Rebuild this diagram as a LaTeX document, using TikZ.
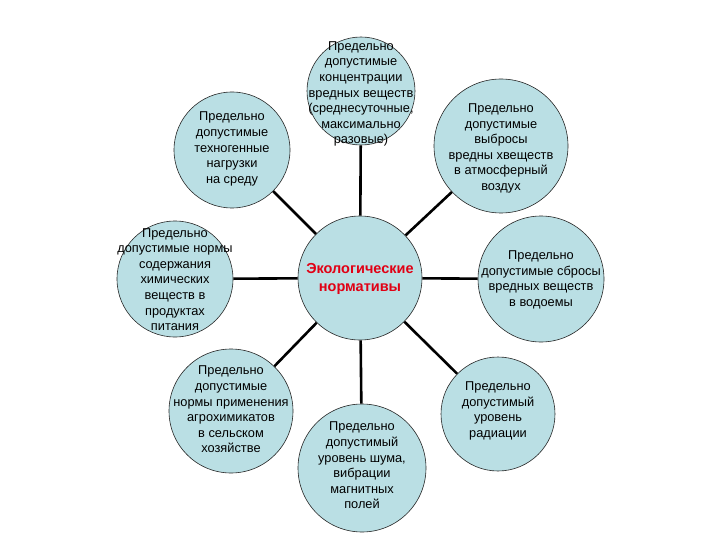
\documentclass[tikz,border=0pt]{standalone}
\usepackage{fontspec}
\setmainfont{Liberation Sans}
\definecolor{bubfill}{RGB}{186,223,228}
\definecolor{titlered}{RGB}{225,0,20}
\begin{document}
\begin{tikzpicture}[x=1pt,y=-1pt,
  bub/.style={circle,draw=black!85,line width=0.6pt,fill=bubfill,inner sep=0pt},
  txt/.style={align=center,font=\fontsize{12.8}{15.6}\selectfont,inner sep=0pt},
  conn/.style={line width=2.6pt,draw=black}]
\useasboundingbox (0,0) rectangle (720,540);
% circles
\node[bub,minimum size=124pt] (c) at (360,278) {};
\node[bub,minimum size=108pt] (t) at (361,91) {};
\node[bub,minimum size=116pt] (tl) at (232,150) {};
\node[bub,minimum size=134pt] (tr) at (501,146) {};
\node[bub,minimum size=116pt] (l) at (175,279) {};
\node[bub,minimum size=126pt] (r) at (541,279) {};
\node[bub,minimum size=124pt] (bl) at (231,411) {};
\node[bub,minimum size=128pt] (b) at (362,468) {};
\node[bub,minimum size=114pt] (br) at (498,414) {};
% connectors
\draw[conn] (c) -- (t);
\draw[conn] (c) -- (tl);
\draw[conn] (c) -- (tr);
\draw[conn] (c) -- (l);
\draw[conn] (c) -- (r);
\draw[conn] (c) -- (bl);
\draw[conn] (c) -- (b);
\draw[conn] (c) -- (br);
% texts
\node[txt,font=\fontsize{14.5}{18}\selectfont\bfseries,text=titlered] (ct) at (360,279) {Экологические\\нормативы};
\node[txt] (tt) at (361,94) {Предельно\\допустимые\\концентрации\\вредных веществ\\(среднесуточные,\\максимально\\разовые)};
\node[txt] (tlt) at (232,149) {Предельно\\допустимые\\техногенные\\нагрузки\\на среду};
\node[txt] (trt) at (501,148.5) {Предельно\\допустимые\\выбросы\\вредны хвеществ\\в атмосферный\\воздух};
\node[txt] (lt) at (175,279.5) {Предельно\\допустимые нормы\\содержания\\химических\\веществ в\\продуктах\\питания};
\node[txt] (rt) at (541,280) {Предельно\\допустимые сбросы\\вредных веществ\\в водоемы};
\node[txt] (blt) at (231,409.5) {Предельно\\допустимые\\нормы применения\\агрохимикатов\\в сельском\\хозяйстве};
\node[txt] (bt) at (362,465.5) {Предельно\\допустимый\\уровень шума,\\вибрации\\магнитных\\полей};
\node[txt] (brt) at (498,411) {Предельно\\допустимый\\уровень\\радиации};
\end{tikzpicture}
\end{document}
